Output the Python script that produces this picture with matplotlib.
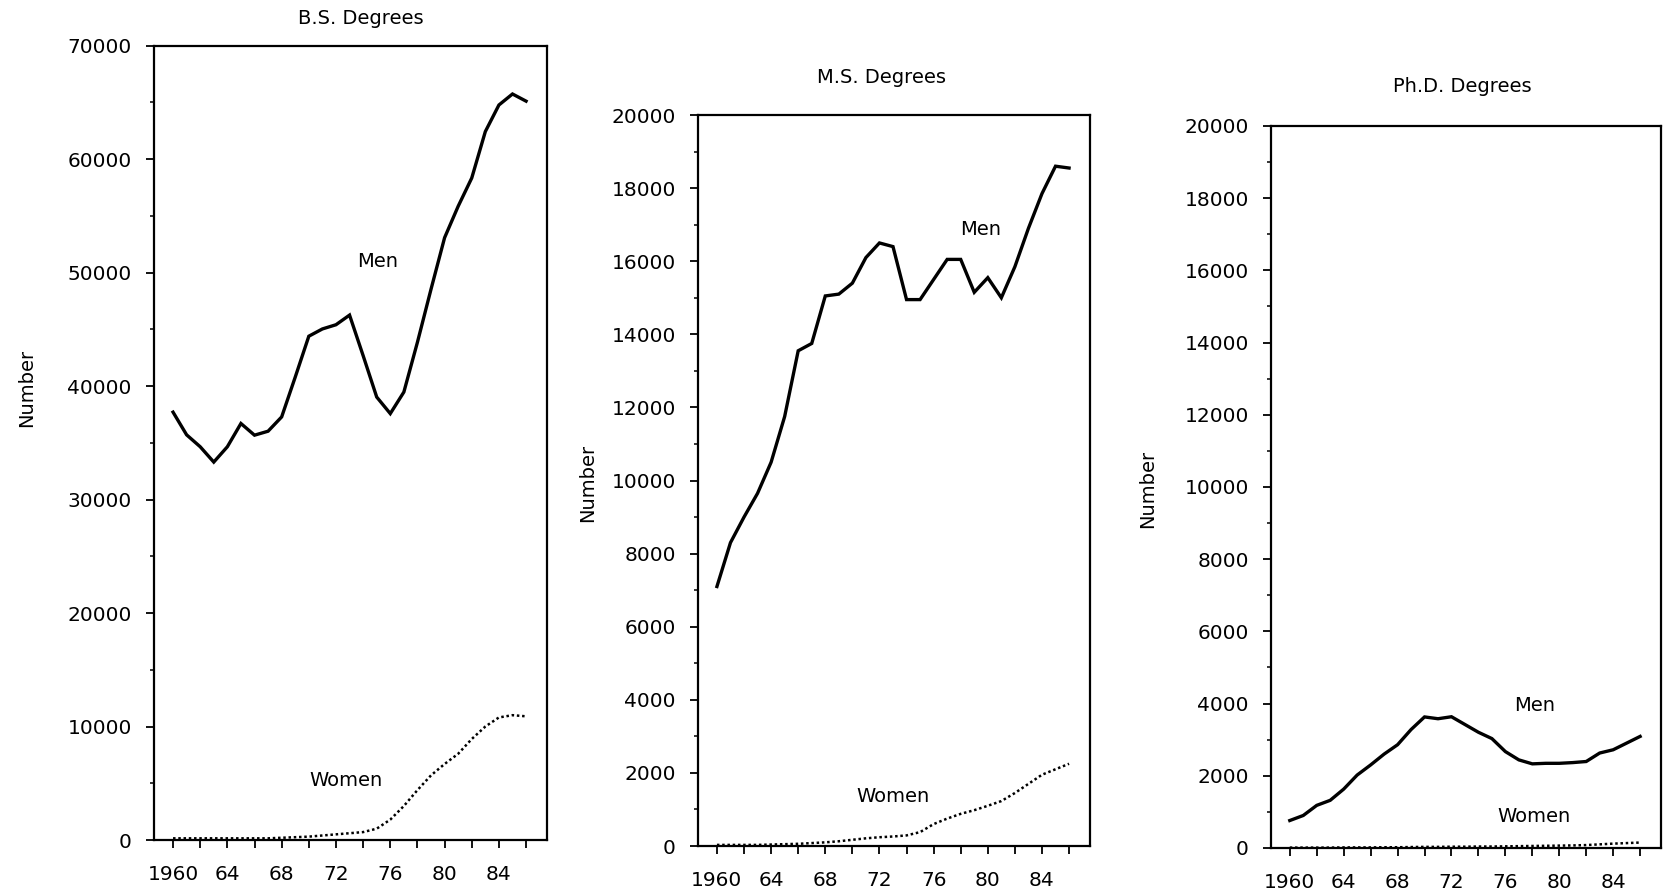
import matplotlib
matplotlib.use("Agg")
import matplotlib.pyplot as plt
from matplotlib.ticker import MultipleLocator

years = list(range(1960, 1987))

bs_men = [37700, 35700, 34650, 33300, 34650, 36700, 35670, 36020, 37280, 40790,
          44390, 45030, 45400, 46250, 42680, 39030, 37570, 39470, 43860, 48530,
          53070, 55840, 58330, 62420, 64760, 65730, 65100]
bs_women = [150, 150, 150, 150, 150, 150, 150, 150, 200, 250,
            300, 400, 500, 600, 700, 1000, 1800, 3000, 4400, 5700,
            6700, 7600, 8900, 10000, 10800, 11000, 10900]

ms_men = [7100, 8300, 9000, 9650, 10500, 11750, 13550, 13750, 15050, 15100,
          15400, 16100, 16500, 16400, 14950, 14950, 15500, 16050, 16050, 15150,
          15550, 15000, 15850, 16900, 17850, 18600, 18550]
ms_women = [30, 30, 30, 30, 40, 50, 60, 80, 100, 130,
            170, 210, 240, 260, 290, 380, 600, 750, 880, 980,
            1100, 1230, 1450, 1700, 1950, 2100, 2250]

phd_men = [760, 900, 1180, 1320, 1630, 2020, 2300, 2600, 2860, 3280,
           3630, 3580, 3635, 3420, 3205, 3030, 2670, 2440, 2330, 2345,
           2345, 2365, 2395, 2630, 2720, 2905, 3090]
phd_women = [10, 10, 10, 10, 15, 15, 15, 20, 20, 25,
             30, 30, 35, 35, 40, 40, 45, 50, 55, 60,
             65, 70, 80, 100, 120, 135, 150]

titles = ["B.S. Degrees", "M.S. Degrees", "Ph.D. Degrees"]
ylims = [70000, 20000, 20000]
ymajor = [10000, 2000, 2000]
yminor = [5000, 1000, 1000]
xtick_vals = list(range(1960, 1987, 2))
xtick_labels = ["1960", "", "64", "", "68", "", "72", "", "76", "", "80", "", "84", ""]

FONT = "DejaVu Sans"
plt.rcParams["font.family"] = FONT

fig = plt.figure(figsize=(16.67, 8.91), dpi=100)

positions = [
    [0.0924, 0.0572, 0.2358, 0.8917],
    [0.4187, 0.0505, 0.2352, 0.8204],
    [0.7624, 0.0483, 0.2340, 0.8103],
]
men_series = [bs_men, ms_men, phd_men]
women_series = [bs_women, ms_women, phd_women]
men_lbl = [(1975.1, 51000), (1979.5, 16880), (1978.2, 3940)]
women_lbl = [(1972.7, 5260), (1973.0, 1350), (1978.1, 880)]
title_pos = [(0.2166, 0.9787), (0.529, 0.9125), (0.877, 0.9024)]
ylabel_pos = [(0.016, 0.5645), (0.3527, 0.458), (0.6887, 0.451)]

for i in range(3):
    ax = fig.add_axes(positions[i])
    ax.plot(years, men_series[i], color="black", lw=2.4, solid_joinstyle="miter")
    ax.plot(years, women_series[i], color="black", lw=1.8, linestyle=(0, (1, 1.1)))
    ax.set_xlim(1958.6, 1987.55)
    ax.set_ylim(0, ylims[i])
    ax.yaxis.set_major_locator(MultipleLocator(ymajor[i]))
    ax.yaxis.set_minor_locator(MultipleLocator(yminor[i]))
    ax.set_xticks(xtick_vals)
    ax.set_xticklabels(xtick_labels)
    ax.tick_params(axis="both", which="major", direction="out", length=6, width=1.3,
                   labelsize=14.5, color="black")
    ax.tick_params(axis="y", which="major", pad=10)
    ax.tick_params(axis="x", which="major", pad=12)
    ax.tick_params(axis="y", which="minor", direction="out", length=3, width=1.1)
    for s in ax.spines.values():
        s.set_linewidth(1.6)
        s.set_color("black")
    ax.text(men_lbl[i][0], men_lbl[i][1], "Men", ha="center", va="center", fontsize=14)
    ax.text(women_lbl[i][0], women_lbl[i][1], "Women", ha="center", va="center", fontsize=14)
    fig.text(title_pos[i][0], title_pos[i][1], titles[i], ha="center", va="center", fontsize=14)
    fig.text(ylabel_pos[i][0], ylabel_pos[i][1], "Number", ha="center", va="center",
             rotation=90, fontsize=14)

fig.savefig("out.png", dpi=100, facecolor="white")
